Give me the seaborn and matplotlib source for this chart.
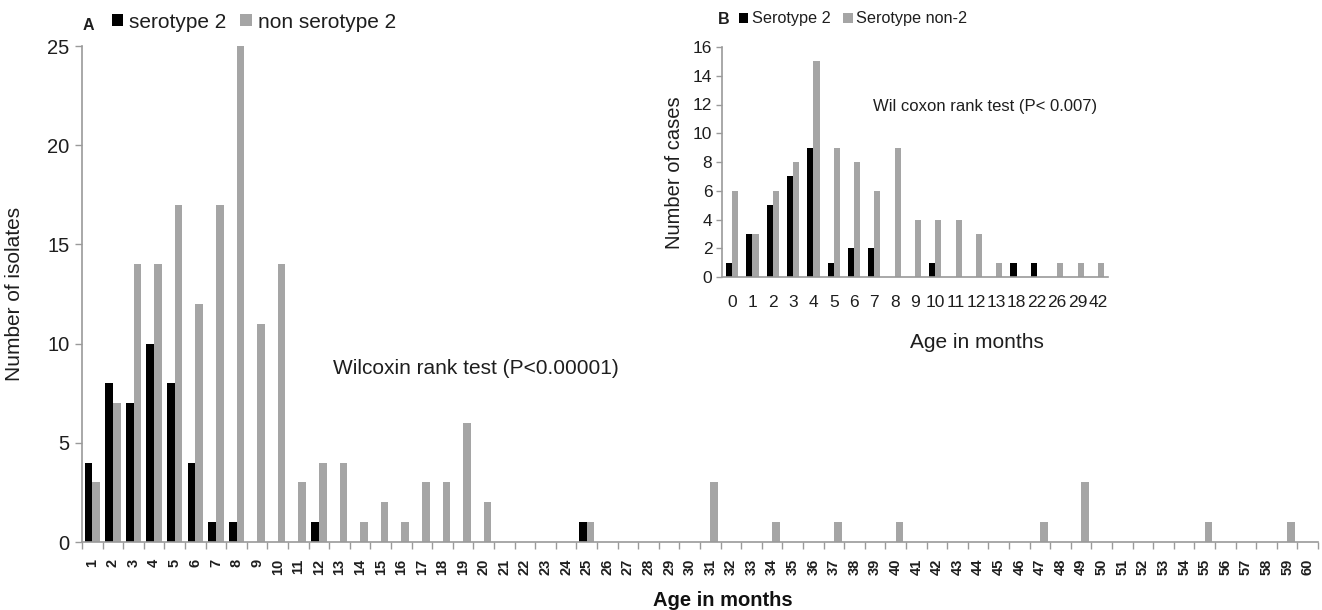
import numpy as np
import pandas as pd
import matplotlib
matplotlib.use("Agg")
import matplotlib.pyplot as plt
import seaborn as sns

# ---------------- data ----------------
months_a = [str(m) for m in range(1, 61)]
sero2_a = [4, 8, 7, 10, 8, 4, 1, 1, 0, 0, 0, 1, 0, 0, 0, 0, 0, 0, 0, 0,
           0, 0, 0, 0, 1, 0, 0, 0, 0, 0, 0, 0, 0, 0, 0, 0, 0, 0, 0, 0,
           0, 0, 0, 0, 0, 0, 0, 0, 0, 0, 0, 0, 0, 0, 0, 0, 0, 0, 0, 0]
non2_a = [3, 7, 14, 14, 17, 12, 17, 25, 11, 14, 3, 4, 4, 1, 2, 1, 3, 3, 6, 2,
          0, 0, 0, 0, 1, 0, 0, 0, 0, 0, 3, 0, 0, 1, 0, 0, 1, 0, 0, 1,
          0, 0, 0, 0, 0, 0, 1, 0, 3, 0, 0, 0, 0, 0, 1, 0, 0, 0, 1, 0]
series_a = ["serotype 2", "non serotype 2"]

months_b = ["0", "1", "2", "3", "4", "5", "6", "7", "8", "9", "10", "11", "12",
            "13", "18", "22", "26", "29", "42"]
sero2_b = [1, 3, 5, 7, 9, 1, 2, 2, 0, 0, 1, 0, 0, 0, 1, 1, 0, 0, 0]
non2_b = [6, 3, 6, 8, 15, 9, 8, 6, 9, 4, 4, 4, 3, 1, 0, 0, 1, 1, 1]
series_b = ["Serotype 2", "Serotype non-2"]

BLACK = "#000000"
GRAY = "#a5a5a5"
AXC = "#9a9a9a"
TXT = "#1e1e1e"

sns.set_theme(style="white")
plt.rcParams["font.family"] = ["Liberation Sans", "DejaVu Sans"]

df_a = pd.DataFrame({
    "month": months_a * 2,
    "count": sero2_a + non2_a,
    "series": [series_a[0]] * len(months_a) + [series_a[1]] * len(months_a),
})
df_b = pd.DataFrame({
    "month": months_b * 2,
    "count": sero2_b + non2_b,
    "series": [series_b[0]] * len(months_b) + [series_b[1]] * len(months_b),
})

W, H = 1322, 610
fig = plt.figure(figsize=(W / 100, H / 100), dpi=100)
fig.patch.set_facecolor("white")

# ---------------- main chart A ----------------
ax = fig.add_axes([82 / W, (H - 542) / H, (1318 - 82) / W, (542 - 46) / H])
sns.barplot(data=df_a, x="month", y="count", hue="series", order=months_a,
            hue_order=series_a, palette=[BLACK, GRAY], width=0.74,
            saturation=1, gap=0, linewidth=0, ax=ax, legend=True)
ax.set_xlim(-0.5, len(months_a) - 0.5)
ax.set_ylim(0, 25)
ax.set_yticks([0, 5, 10, 15, 20, 25])
ax.tick_params(axis="y", labelsize=14.5, length=5, width=1, color=AXC,
               left=True, pad=4, labelcolor=TXT)
ax.set_xticks(range(len(months_a)))
ax.set_xticklabels(months_a, rotation=90, fontsize=10.5, fontweight="bold",
                   color=TXT)
ax.tick_params(axis="x", which="major", length=0, pad=12)
ax.set_xticks(np.arange(-0.5, len(months_a), 1), minor=True)
ax.tick_params(axis="x", which="minor", length=5, width=1, color=AXC,
               bottom=True)
for s in ["top", "right"]:
    ax.spines[s].set_visible(False)
for s in ["left", "bottom"]:
    ax.spines[s].set_color(AXC)
    ax.spines[s].set_linewidth(1.2)
ax.set_xlabel("")
ax.set_ylabel("")
fig.text(15 / W, 1 - 294 / H, "Number of isolates", fontsize=15, color=TXT,
         rotation=90, ha="center", va="center")
fig.text(333 / W, 1 - 368 / H, "Wilcoxin rank test (P<0.00001)",
         fontsize=15, va="center", ha="left", color=TXT)
fig.text(723 / W, 1 - 600 / H, "Age in months", fontsize=14.5,
         fontweight="bold", ha="center", va="center", color="#111111")
fig.text(83 / W, 1 - 26 / H, "A", fontsize=11.5, fontweight="bold",
         ha="left", va="center", color=TXT)
sns.move_legend(ax, loc="center left", bbox_to_anchor=(93 / W, 1 - 22 / H),
                bbox_transform=fig.transFigure, ncol=2, frameon=False,
                title=None, fontsize=15, handlelength=0.55, handleheight=0.55,
                handletextpad=0.3, columnspacing=0.65, labelcolor=TXT)

# ---------------- inset chart B ----------------
axb = fig.add_axes([722 / W, (H - 277) / H, (1108 - 722) / W, (277 - 47) / H])
sns.barplot(data=df_b, x="month", y="count", hue="series", order=months_b,
            hue_order=series_b, palette=[BLACK, GRAY], width=0.6,
            saturation=1, gap=0, linewidth=0, ax=axb, legend=True)
axb.set_facecolor("white")
axb.set_xlim(-0.5, len(months_b) - 0.5)
axb.set_ylim(0, 16)
axb.set_yticks(range(0, 17, 2))
axb.tick_params(axis="y", labelsize=12.5, length=4, width=1, color=AXC,
                left=True, pad=3, labelcolor=TXT)
axb.tick_params(axis="x", labelsize=12.5, length=0, pad=13,
                labelcolor=TXT)
for s in ["top", "right"]:
    axb.spines[s].set_visible(False)
for s in ["left", "bottom"]:
    axb.spines[s].set_color(AXC)
    axb.spines[s].set_linewidth(1.2)
axb.set_xlabel("")
axb.set_ylabel("")
fig.text(675 / W, 1 - 173 / H, "Number of cases", fontsize=14.5, color=TXT,
         rotation=90, ha="center", va="center")
fig.text(977 / W, 1 - 343 / H, "Age in months", fontsize=15,
         ha="center", va="center", color=TXT)
fig.text(873 / W, 1 - 107 / H, "Wil coxon rank test (P< 0.007)",
         fontsize=12, ha="left", va="center", color=TXT)
fig.text(718 / W, 1 - 20 / H, "B", fontsize=11.5, fontweight="bold",
         ha="left", va="center", color=TXT)
sns.move_legend(axb, loc="center left", bbox_to_anchor=(724 / W, 1 - 19 / H),
                bbox_transform=fig.transFigure, ncol=2, frameon=False,
                title=None, fontsize=11.7, handlelength=0.6, handleheight=0.6,
                handletextpad=0.2, columnspacing=0.8, labelcolor=TXT)

fig.savefig("out.png", dpi=100, facecolor="white")
